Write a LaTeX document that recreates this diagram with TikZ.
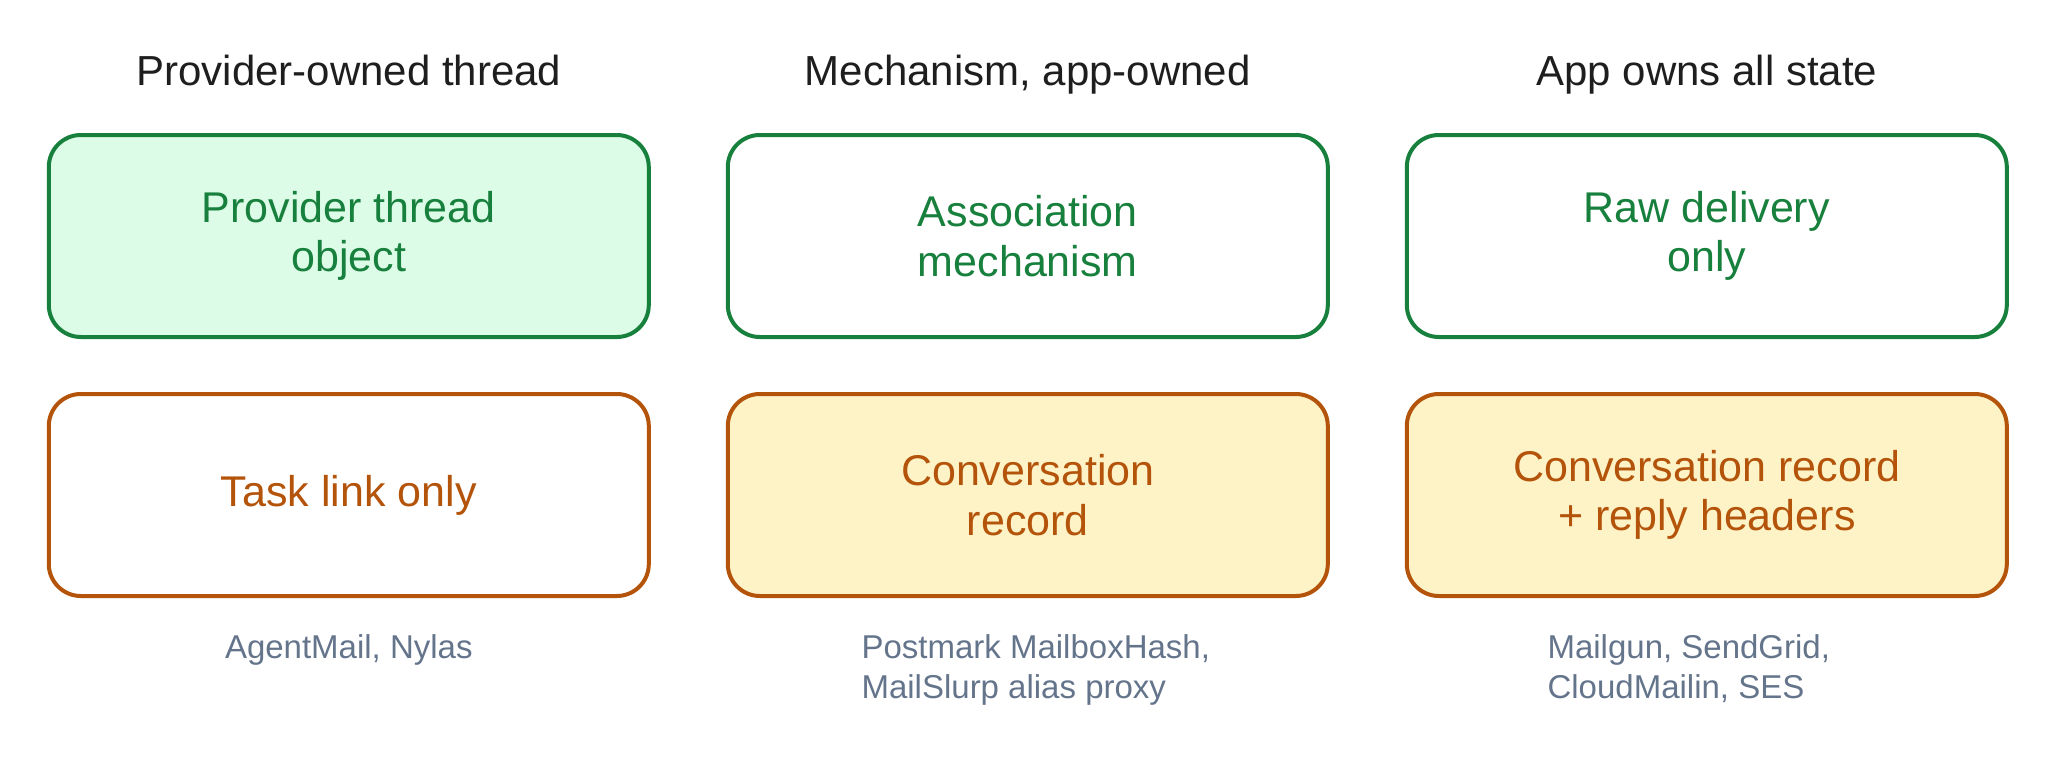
\documentclass[tikz,border=0pt]{standalone}
\usepackage{fontspec}
\setmainfont{Liberation Sans}
\usepackage{tikz}
\usepackage{xcolor}
\usetikzlibrary{positioning, calc}
\definecolor{ownedgreen}{HTML}{18803D}
\definecolor{ownedgreenfill}{HTML}{DCFCE7}
\definecolor{apporange}{HTML}{B4530A}
\definecolor{appyellow}{HTML}{FEF3C7}
\definecolor{titleink}{HTML}{1E1E1E}
\definecolor{noteslate}{HTML}{64748B}

\begin{document}
\begin{tikzpicture}[
    % Box styles (one per owner colour)
    greenbox/.style={rectangle, draw=ownedgreen, line width=2pt, rounded corners=16pt, minimum width=300pt, minimum height=101pt, outer sep=0pt, align=center, text=ownedgreen, font=\fontsize{21.5}{24.7}\selectfont},
    orangebox/.style={rectangle, draw=apporange, line width=2pt, rounded corners=16pt, minimum width=300pt, minimum height=101pt, outer sep=0pt, align=center, text=apporange, font=\fontsize{21.5}{24.7}\selectfont},
    % Text styles
    coltitle/.style={anchor=base, inner sep=0pt, text=titleink, font=\fontsize{21}{25}\selectfont},
    provnote/.style={anchor=base, inner sep=0pt, align=left, text=noteslate, font=\fontsize{16.5}{20}\selectfont},
]
\useasboundingbox (0,0) rectangle (1028pt,-380pt);

% ============================================================================
% TOP ROW: where the thread lives
% ============================================================================
\node[greenbox, fill=ownedgreenfill] (provthread) at (174.4pt,-118pt) {Provider thread\\object};
\node[greenbox, fill=white, right=39.5pt of provthread] (assocmech) {Association\\mechanism};
\node[greenbox, fill=white, right=39.5pt of assocmech] (rawdelivery) {Raw delivery\\only};

% Column titles
\node[coltitle] (provtitle) at ([yshift=25pt]provthread.north) {Provider-owned thread};
\node[coltitle] (mechtitle) at ([yshift=25pt]assocmech.north) {Mechanism, app-owned};
\node[coltitle] (apptitle) at ([yshift=25pt]rawdelivery.north) {App owns all state};

% ============================================================================
% BOTTOM ROW: what the app keeps
% ============================================================================
\node[orangebox, fill=white, below=28.5pt of provthread] (tasklink) {Task link only};
\node[orangebox, fill=appyellow, below=28.5pt of assocmech] (convrecord) {Conversation\\record};
\node[orangebox, fill=appyellow, below=28.5pt of rawdelivery] (convheaders) {Conversation record\\+ reply headers};

% Providers under each column (base = last line, so two-line notes sit 20pt lower)
\node[provnote] (provlist) at ([yshift=-31pt]tasklink.south) {AgentMail, Nylas};
\node[provnote] (mechlist) at ([xshift=4pt,yshift=-51pt]convrecord.south) {Postmark MailboxHash,\\MailSlurp alias proxy};
\node[provnote] (applist) at ([xshift=-9pt,yshift=-51pt]convheaders.south) {Mailgun, SendGrid,\\CloudMailin, SES};

\end{tikzpicture}
\end{document}
